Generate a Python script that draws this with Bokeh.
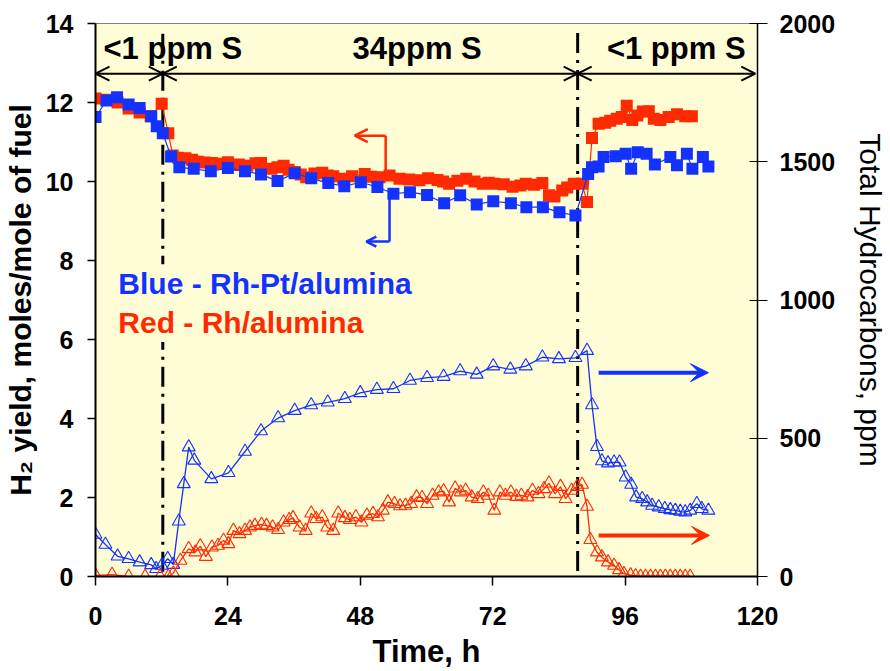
from bokeh.plotting import figure
from bokeh.models import Range1d, LinearAxis, Label, Arrow, OpenHead, VeeHead, FixedTicker
from bokeh.embed import file_html
from bokeh.resources import INLINE

# ---------------- data ----------------
# H2 yield, Rh-Pt/alumina (blue squares, left axis)
h2_rhpt_t = [0, 2.0, 3.9, 6.0, 8.0, 10.1, 11.1, 12.2, 13.7, 15.2,
             17.8, 20.9, 24.0, 27.1, 30.0, 33.0, 36.1, 39.1, 42.2, 45.1,
             48.1, 51.1, 54.0, 57.0, 60.1, 63.2, 66.1, 69.1, 72.1, 75.3,
             78.1, 81.1, 84.1, 87.0, 89.3, 90.0, 91.2, 92.1, 94.3, 96.1,
             97.1, 98.3, 99.9, 101.4, 104.2, 105.4, 107.2, 108.2, 110.1, 111.1]
h2_rhpt = [11.63, 12.05, 12.13, 11.95, 11.86, 11.65, 11.4, 11.22, 10.63, 10.36,
           10.32, 10.26, 10.34, 10.26, 10.18, 10.01, 10.21, 10.08, 9.96, 9.88,
           9.98, 9.86, 9.69, 9.73, 9.66, 9.45, 9.65, 9.42, 9.50, 9.45,
           9.35, 9.35, 9.22, 9.14, 10.19, 10.36, 10.38, 10.62, 10.64, 10.70,
           10.32, 10.74, 10.70, 10.43, 10.62, 10.41, 10.70, 10.32, 10.62, 10.38]

# H2 yield, Rh/alumina (red squares, left axis)
h2_rh_t = [0, 2, 4, 6, 8, 10, 12.0, 13.2, 14.0, 15.0,
           16.3, 17.5, 18.6, 19.8, 21.1, 22.5, 24.0, 25.0, 26.0, 27.5,
           29.0, 30.0, 31.9, 33.0, 34.1, 35.0, 36.1, 37.2, 38.2, 39.7,
           41.1, 42.1, 43.1, 44.9, 46.5, 48.8, 50.0, 51.5, 53.3, 55.1,
           56.9, 58.7, 60.3, 62.0, 63.0, 64.1, 65.6, 67.2, 68.7, 70.2,
           71.3, 72.3, 74.0, 75.6, 77.0, 78.0, 79.5, 81.0, 82.2, 83.2,
           84.6, 85.5, 86.7, 88.2, 89.1, 90.0, 91.2, 92.4, 93.3, 94.5,
           95.4, 96.3, 97.3, 98.2, 99.2, 100.3, 101.2, 102.4, 103.9, 105.4,
           106.9, 108.1]
h2_rh = [12.1, 12.07, 12.0, 11.85, 11.75, 11.65, 11.97, 11.22, 10.66, 10.6,
         10.59, 10.55, 10.5, 10.48, 10.47, 10.45, 10.49, 10.42, 10.43, 10.4,
         10.46, 10.47, 10.32, 10.36, 10.4, 10.3, 10.24, 10.18, 10.11, 10.2,
         10.22, 10.15, 10.13, 10.07, 10.13, 10.19, 10.12, 10.11, 10.15, 10.07,
         10.05, 10.03, 10.08, 10.04, 10.0, 9.94, 10.02, 10.07, 10.0, 9.94,
         9.97, 9.94, 9.93, 9.87, 9.9, 9.94, 9.92, 9.96, 9.65, 9.62,
         9.77, 9.85, 9.94, 9.94, 9.48, 11.1, 11.46, 11.49, 11.54, 11.59,
         11.63, 11.92, 11.56, 11.67, 11.77, 11.78, 11.59, 11.56, 11.63, 11.70,
         11.65, 11.65]

# Total hydrocarbons, Rh-Pt/alumina (blue triangles, right axis, ppm)
thc_rhpt_t = [0, 1.8, 4.0, 6.0, 8.0, 10.1, 11.0, 12.0, 13.1, 14.1,
              15.1, 16.0, 16.9, 17.9, 21.0, 24.1, 27.1, 30.0, 33.1, 36.1,
              39.1, 42.1, 45.2, 48.0, 51.0, 54.0, 57.0, 60.1, 63.1, 66.1,
              69.1, 72.1, 75.2, 78.0, 81.0, 84.0, 87.0, 89.1, 90.0, 90.9,
              91.8, 92.9, 94.0, 95.0, 96.1, 97.1, 98.0, 99.1, 100.0, 100.9,
              102.1, 103.2, 104.2, 105.1, 106.0, 106.9, 107.8, 109.0, 109.9, 111.1]
thc_rhpt = [152, 116, 73, 64, 52, 42, 28, 40, 64, 43,
            200, 335, 468, 420, 353, 375, 452, 526, 573, 600,
            620, 630, 643, 664, 676, 679, 709, 719, 723, 743,
            731, 761, 749, 761, 793, 787, 791, 817, 620, 469,
            418, 410, 413, 413, 359, 333, 287, 281, 269, 257,
            251, 245, 241, 239, 235, 233, 239, 263, 245, 239]

# Total hydrocarbons, Rh/alumina (red triangles, right axis, ppm)
thc_rh_t = [0, 3, 6, 9, 11.7, 13.2, 14.1, 15.4, 16.9, 18.1,
            19.0, 20.0, 21.1, 22.2, 23.2, 24.1, 25.0, 26.1, 27.1, 28.0,
            28.9, 30.1, 31.0, 32.1, 33.1, 34.1, 35.1, 35.8, 37.0, 38.1,
            39.1, 40.0, 41.1, 42.0, 43.1, 44.0, 45.2, 46.1, 47.2, 48.2,
            49.2, 50.3, 51.2, 52.1, 53.0, 54.2, 55.2, 56.2, 57.2, 58.2,
            59.2, 60.1, 61.1, 62.2, 63.1, 64.1, 65.2, 66.2, 67.1, 68.2,
            69.3, 70.3, 71.2, 72.3, 73.3, 74.3, 75.3, 76.3, 77.2, 78.3,
            79.2, 80.3, 81.3, 82.2, 83.3, 84.3, 85.2, 86.3, 87.3, 88.2,
            89.1, 89.7, 90.9, 91.8, 92.9, 94.0, 94.9, 95.8, 97.0, 97.9,
            98.8, 99.7, 100.6, 101.5, 102.4, 103.3, 104.2, 105.1, 106.0, 106.9,
            107.8]
thc_rh = [4, 7, 0, 0, 0, 0, 12, 58, 100, 88,
          110, 72, 106, 112, 130, 118, 166, 154, 166, 178,
          184, 188, 184, 178, 169, 196, 205, 212, 178, 166,
          229, 209, 215, 178, 166, 229, 212, 205, 215, 196,
          221, 227, 215, 239, 269, 263, 255, 257, 263, 287,
          285, 263, 293, 305, 309, 269, 319, 305, 311, 287,
          281, 305, 293, 239, 305, 293, 305, 289, 293, 287,
          311, 299, 317, 337, 299, 325, 281, 311, 325, 333,
          253, 133, 88, 70, 52, 40, 24, 10, 5, 2,
          0, 0, 0, 0, 0, 0, 0, 0, 0, 0,
          0]

x_ticks = [0, 24, 48, 72, 96, 120]
y_ticks = [0, 2, 4, 6, 8, 10, 12, 14]
thc_ticks = [0, 500, 1000, 1500, 2000]

# sulfur phases: boundaries (h) and labels
phase_bounds = [12.2, 87.4]
phase_labels = ["<1 ppm S", "34ppm S", "<1 ppm S"]

# ---------------- styling ----------------
BG = "#FFFDD6"
BLUE = "#1432FF"
RED = "#FF2A00"
FONT = "Liberation Sans"

p = figure(width=890, height=671, x_range=Range1d(0, 120), y_range=Range1d(0, 14),
           output_backend="svg", toolbar_location=None,
           min_border_left=95, min_border_right=130, min_border_top=23, min_border_bottom=95,
           background_fill_color=BG, border_fill_color="white",
           outline_line_color="#808080", outline_line_width=1)
p.extra_y_ranges = {"thc": Range1d(0, 2000)}
p.grid.visible = False

right = LinearAxis(y_range_name="thc")
p.add_layout(right, "right")

p.xaxis.ticker = FixedTicker(ticks=x_ticks)
p.yaxis[0].ticker = FixedTicker(ticks=y_ticks)
right.ticker = FixedTicker(ticks=thc_ticks)

for ax in [p.xaxis[0], p.yaxis[0], right]:
    ax.major_label_text_font = FONT
    ax.major_label_text_font_style = "bold"
    ax.major_label_text_font_size = "25px"
    ax.major_label_text_color = "black"
    ax.axis_label_text_font = FONT
    ax.axis_label_text_font_style = "bold"
    ax.axis_label_text_font_size = "30px"
    ax.axis_label_text_color = "black"
    ax.minor_tick_line_color = None
    ax.major_tick_line_color = "black"
    ax.axis_line_color = "black"

p.xaxis.axis_label = "Time, h"
p.xaxis.axis_label_text_font_size = "31px"
p.xaxis.axis_line_width = 2
p.xaxis.major_tick_in = 0
p.xaxis.major_tick_out = 9
p.xaxis.major_tick_line_width = 1.5
p.xaxis.major_label_standoff = 21
p.xaxis.axis_label_standoff = 6

p.yaxis[0].axis_label = "H\u2082 yield, moles/mole of fuel"
p.yaxis[0].axis_line_width = 2
p.yaxis[0].major_tick_in = 0
p.yaxis[0].major_tick_out = 8
p.yaxis[0].major_tick_line_width = 1.5
p.yaxis[0].major_label_standoff = 14
p.yaxis[0].axis_label_standoff = 6

right.axis_label = "Total Hydrocarbons, ppm"
right.axis_label_text_font_style = "normal"
right.axis_line_width = 1.5
right.major_tick_in = 8
right.major_tick_out = 10
right.major_label_standoff = 12
right.axis_label_standoff = 16

# ---------------- sulfur phase annotations ----------------
arrow_y = 12.73
seg_x = [0] + phase_bounds + [119.6]
for i in range(3):
    p.add_layout(Arrow(start=OpenHead(size=14, line_width=2, line_color="black"),
                       end=OpenHead(size=14, line_width=2, line_color="black"),
                       x_start=seg_x[i], x_end=seg_x[i + 1], y_start=arrow_y, y_end=arrow_y,
                       line_width=2, line_color="black"))
label_x = [1.45, 46.6, 92.7]
for lx, txt in zip(label_x, phase_labels):
    p.add_layout(Label(x=lx, y=13.36, text=txt, text_font=FONT, text_font_style="bold",
                       text_font_size="31px", text_color="black", text_baseline="alphabetic"))

p.segment(x0=phase_bounds, x1=phase_bounds, y0=[0.12, 0.14], y1=[13.88, 13.88],
          line_color="black", line_width=3, line_dash="20 7 3 7")

# ---------------- data series ----------------
p.line(thc_rhpt_t, thc_rhpt, y_range_name="thc", line_color=BLUE, line_width=1.3)
p.scatter(thc_rhpt_t, thc_rhpt, y_range_name="thc", marker="triangle", size=13,
          line_color=BLUE, fill_color=None, line_width=1.1)
p.line(thc_rh_t, thc_rh, y_range_name="thc", line_color=RED, line_width=1.3)
p.scatter(thc_rh_t, thc_rh, y_range_name="thc", marker="triangle", size=13,
          line_color=RED, fill_color=None, line_width=1.1)

p.line(h2_rh_t, h2_rh, line_color=RED, line_width=1.2)
p.scatter(h2_rh_t, h2_rh, marker="square", size=12, line_color=None, fill_color=RED)
p.line(h2_rhpt_t, h2_rhpt, line_color=BLUE, line_width=1.2)
p.scatter(h2_rhpt_t, h2_rhpt, marker="square", size=12, line_color=None, fill_color=BLUE)

# ---------------- pointer arrows ----------------
# red: H2 -> left axis
p.segment(x0=[52.6], x1=[52.6], y0=[11.16], y1=[10.28], line_color=RED, line_width=2.5)
p.add_layout(Arrow(end=OpenHead(size=13, line_width=2.5, line_color=RED),
                   x_start=52.6, x_end=47.0, y_start=11.16, y_end=11.16,
                   line_color=RED, line_width=2.5))
# blue: H2 -> left axis
p.segment(x0=[53.3], x1=[53.3], y0=[9.65], y1=[8.48], line_color=BLUE, line_width=2.5)
p.add_layout(Arrow(end=OpenHead(size=10, line_width=2.5, line_color=BLUE),
                   x_start=53.3, x_end=49.1, y_start=8.48, y_end=8.48,
                   line_color=BLUE, line_width=2.5))
# THC -> right axis
p.add_layout(Arrow(end=VeeHead(size=18, fill_color=BLUE, line_color=BLUE),
                   x_start=91.2, x_end=111.1, y_start=5.16, y_end=5.16,
                   line_color=BLUE, line_width=4))
p.add_layout(Arrow(end=VeeHead(size=18, fill_color=RED, line_color=RED),
                   x_start=91.2, x_end=111.3, y_start=1.04, y_end=1.04,
                   line_color=RED, line_width=4))

# ---------------- catalyst legend ----------------
p.add_layout(Label(x=3.6, y=7.41, text="Blue - Rh-Pt/alumina", text_font=FONT,
                   text_font_style="bold", text_font_size="30px", text_color=BLUE,
                   text_baseline="alphabetic", background_fill_color=BG, padding=3))
p.add_layout(Label(x=3.6, y=6.43, text="Red - Rh/alumina", text_font=FONT,
                   text_font_style="bold", text_font_size="30px", text_color=RED,
                   text_baseline="alphabetic", background_fill_color=BG, padding=3))

open("out.html", "w").write(file_html(p, INLINE))
